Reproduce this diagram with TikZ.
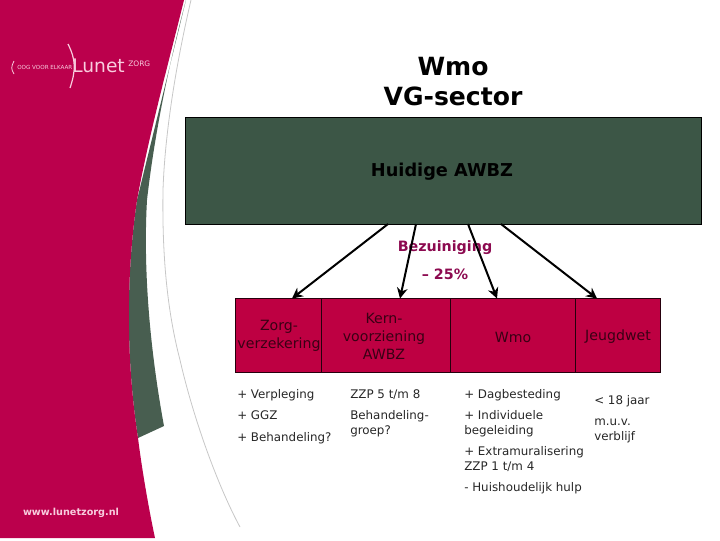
\documentclass[tikz,border=0pt]{standalone}
\usepackage{fontspec}
\setmainfont{DejaVu Sans}
\definecolor{lunetred}{RGB}{187,0,76}
\definecolor{boxred}{RGB}{190,0,66}
\definecolor{lunetgreen}{RGB}{60,86,70}
\definecolor{sidegreen}{RGB}{72,94,80}
\definecolor{bez}{RGB}{140,10,80}
\definecolor{logopink}{RGB}{248,205,222}
\usetikzlibrary{arrows.meta}
\tikzset{
  x=0.75pt,y=-0.75pt,
  boxlabel/.style={font=\fontsize{10.6}{13.5}\selectfont,align=center,text=black!70!boxred,inner sep=0pt},
  cell/.style={draw=black!80!boxred,line width=0.7pt,fill=boxred},
  item/.style={font=\fontsize{8.9}{11.3}\selectfont,align=left,anchor=north west,inner sep=0pt,text=black!85},
  titletext/.style={font=\bfseries\fontsize{18.8}{22.5}\selectfont,align=center,inner sep=0pt},
  bezlabel/.style={font=\bfseries\fontsize{10.7}{13}\selectfont,text=bez,inner sep=0pt},
  conn/.style={line width=1.5pt,-{Stealth[length=8pt,width=8pt]},black},
  logo/.style={text=logopink,inner sep=0pt}
}
\begin{document}
\begin{tikzpicture}
\useasboundingbox (0,0) rectangle (720,540);
% side decoration
\fill[sidegreen] (186,0) .. controls (170,60) and (155,130) .. (147,200)
  .. controls (143,270) and (150,350) .. (164,426) -- (138,438)
  .. controls (126,360) and (126,275) .. (137,200) -- cycle;
\fill[lunetred] (0,0) -- (184,0) .. controls (168,65) and (150,130) .. (137,200)
  .. controls (126,275) and (126,360) .. (138,438) .. controls (142,470) and (149,510) .. (155,538) -- (0,538) -- cycle;
\draw[black!22,line width=0.6pt] (191,0) .. controls (177,60) and (165,130) .. (163,190)
  .. controls (162,255) and (167,310) .. (180,360) .. controls (195,425) and (220,490) .. (240,527);
% logo
\draw[draw=logopink,line width=0.6pt] (14,61) .. controls (11,67) and (11,69) .. (14,74);
\draw[draw=logopink,line width=0.9pt] (68,44) .. controls (76,60) and (76,70) .. (70,88);
\node[logo,anchor=west,font=\fontsize{4.2}{5}\selectfont] (oog) at (17,67.5) {OOG VOOR ELKAAR};
\node[logo,anchor=west,font=\fontsize{14}{18}\selectfont] (lunet) at (72,66) {Lunet};
\node[logo,anchor=west,font=\fontsize{5.6}{6}\selectfont] (zorg) at (128,64) {ZORG};
\node[logo,anchor=center,font=\bfseries\fontsize{7.25}{9}\selectfont] (www) at (71,512.5) {www.lunetzorg.nl};
% title
\node[titletext] (title) at (453,81.5) {Wmo\\VG-sector};
% main box
\node[draw=black,line width=0.8pt,fill=lunetgreen,inner sep=0pt,anchor=north west,minimum width=387.5pt,minimum height=80.5pt] (awbz) at (184.5,116.5) {};
\node[inner sep=0pt,font=\bfseries\fontsize{13.3}{16}\selectfont] (awbzt) at (442,172) {Huidige AWBZ};
% cells
\path[cell] (235.5,298.5) rectangle (660.5,372.5);
\coordinate (c0) at (321,298.5); \coordinate (c0b) at (321,372.5);
\coordinate (c1) at (450.5,298.5); \coordinate (c1b) at (450.5,372.5);
\coordinate (c2) at (575.5,298.5); \coordinate (c2b) at (575.5,372.5);
\draw[draw=black!80!boxred,line width=0.7pt] (c0) -- (c0b) (c1) -- (c1b) (c2) -- (c2b);
\node[boxlabel] (zorgv) at (279,336) {Zorg-\\verzekering};
\node[boxlabel] (kern) at (384,336) {Kern-\\voorziening\\AWBZ};
\node[boxlabel] (wmo) at (513,337) {Wmo};
\node[boxlabel] (jeugd) at (618,336.5) {Jeugdwet};
\coordinate (t0) at (292,298.5);
\coordinate (t1) at (400,298.5);
\coordinate (t2) at (497,298.5);
\coordinate (t3) at (597,298.5);
\coordinate (s0) at (388,224);
\coordinate (s1) at (416,224);
\coordinate (s2) at (468,224);
\coordinate (s3) at (501,224);
% labels
\node[bezlabel] (bez) at (445,248) {Bezuiniging};
\node[bezlabel] (pct) at (445,274) {– 25\%};
% connectors
\draw[conn] (s0) -- (t0);
\draw[conn] (s1) -- (t1);
\draw[conn] (s2) -- (t2);
\draw[conn] (s3) -- (t3);
% items
\node[item] (i1) at (237,389) {+ Verpleging};
\node[item] (i2) at (237,410) {+ GGZ};
\node[item] (i3) at (237,432) {+ Behandeling?};
\node[item] (k1) at (350,389) {ZZP 5 t/m 8};
\node[item] (k2) at (350,410.5) {Behandeling-\\groep?};
\node[item] (w1) at (464,389) {+ Dagbesteding};
\node[item] (w2) at (464,410.5) {+ Individuele\\begeleiding};
\node[item] (w3) at (464,446) {+ Extramuralisering\\ZZP 1 t/m 4};
\node[item] (w4) at (464,482) {- Huishoudelijk hulp};
\node[item] (j1) at (594,395) {< 18 jaar};
\node[item] (j2) at (594,419) {m.u.v.\\verblijf};
\end{tikzpicture}
\end{document}
